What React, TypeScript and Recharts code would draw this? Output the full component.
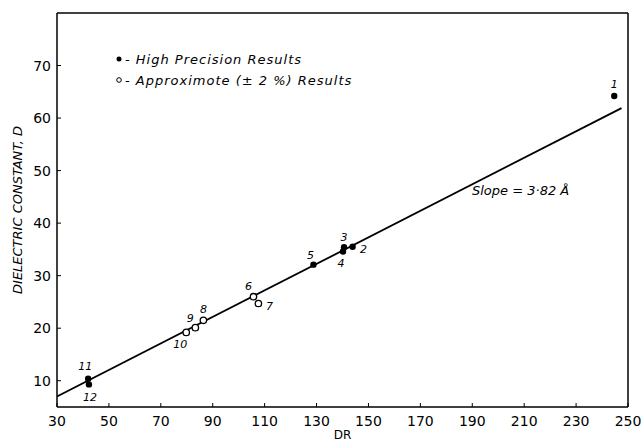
import React from 'react';
import { ScatterChart, Scatter, XAxis, YAxis, ReferenceLine, LabelList, Label } from 'recharts';

// high precision results (filled dots)
const highIds = ['1', '2', '3', '4', '5', '11', '12'];
const highDR = [244.7, 143.9, 140.6, 140.2, 128.8, 42.0, 42.3];
const highD = [64.2, 35.5, 35.4, 34.6, 32.1, 10.4, 9.3];

// approximate (+-2%) results (open circles)
const approxIds = ['6', '7', '8', '9', '10'];
const approxDR = [105.7, 107.6, 86.4, 83.3, 79.8];
const approxD = [26.0, 24.7, 21.5, 20.1, 19.2];

// fitted line, slope = 3.82 A
const fitDR = [30, 247.5];
const fitD = [7.0, 61.9];

const xTicks = [30, 50, 70, 90, 110, 130, 150, 170, 190, 210, 230, 250];
const yTicks = [10, 20, 30, 40, 50, 60, 70];

const highData = highIds.map((id, i) => ({ id, dr: highDR[i], d: highD[i] }));
const approxData = approxIds.map((id, i) => ({ id, dr: approxDR[i], d: approxD[i] }));
const fitData = fitDR.map((dr, i) => ({ dr, d: fitD[i] }));

// where each point number sits relative to its mark
const labelOffset: Record<string, [number, number]> = {
  '1': [0, -12],
  '2': [11, 3],
  '3': [0, -10],
  '4': [-2, 12],
  '5': [-3, -9],
  '6': [-5, -10],
  '7': [11, 3],
  '8': [0, -11],
  '9': [-5, -9],
  '10': [-6, 12],
  '11': [-3, -12],
  '12': [1, 13],
};

const font = '"DejaVu Sans", sans-serif';

const PointLabel = (props: any) => {
  const { x, y, width, height, value } = props;
  const [dx, dy] = labelOffset[value] || [0, -10];
  const cx = x + (width || 0) / 2;
  const cy = y + (height || 0) / 2;
  return (
    <text x={cx + dx} y={cy + dy} textAnchor="middle" dominantBaseline="central"
      fontSize={11} fontStyle="italic" fontFamily={font} fill="#000">
      {value}
    </text>
  );
};

const FilledDot = (props: any) => <circle cx={props.cx} cy={props.cy} r={3.2} fill="#000" />;
const OpenDot = (props: any) => (
  <circle cx={props.cx} cy={props.cy} r={3.2} fill="#fff" stroke="#000" strokeWidth={1.3} />
);

const App = () => {
  return (
    <div style={{ position: 'absolute', left: 0, top: 0, width: 643, height: 441, background: '#fff' }}>
      <ScatterChart width={643} height={441} margin={{ top: 13, right: 15, left: 0, bottom: 0 }}>
        <XAxis
          type="number"
          dataKey="dr"
          domain={[30, 250]}
          ticks={xTicks}
          allowDataOverflow
          height={34}
          tickSize={4}
          tickMargin={5}
          tick={{ fontSize: 14, fill: '#000', fontFamily: font }}
          axisLine={{ stroke: '#000', strokeWidth: 1.5 }}
          tickLine={{ stroke: '#000', transform: 'translate(0,-4)' }}
        >
          <Label value="DR" position="insideBottom" offset={2} fontSize={12} fill="#000" fontFamily={font} />
        </XAxis>
        <YAxis
          type="number"
          dataKey="d"
          domain={[5, 80]}
          ticks={yTicks}
          allowDataOverflow
          width={57}
          tickSize={4}
          tickMargin={2}
          tick={{ fontSize: 14, fill: '#000', fontFamily: font }}
          axisLine={{ stroke: '#000', strokeWidth: 1.5 }}
          tickLine={{ stroke: '#000', transform: 'translate(4,0)' }}
        >
          <Label
            value="DIELECTRIC  CONSTANT,  D"
            angle={-90}
            position="insideLeft"
            offset={17}
            style={{ textAnchor: 'middle', fontStyle: 'italic', fontSize: 13, fill: '#000', fontFamily: font }}
          />
        </YAxis>
        <ReferenceLine y={80} stroke="#000" strokeWidth={1.5} />
        <ReferenceLine x={250} stroke="#000" strokeWidth={1.5} />
        <Scatter data={fitData} line={{ stroke: '#000', strokeWidth: 1.8 }} shape={() => null} isAnimationActive={false} />
        <Scatter data={highData} shape={FilledDot} isAnimationActive={false}>
          <LabelList dataKey="id" content={PointLabel} />
        </Scatter>
        <Scatter data={approxData} shape={OpenDot} isAnimationActive={false}>
          <LabelList dataKey="id" content={PointLabel} />
        </Scatter>
        <text x={472} y={190} fontSize={13} fontStyle="italic" fontFamily={font} fill="#000" dominantBaseline="central">
          Slope = 3·82  Å
        </text>
        <circle cx={119} cy={59} r={2.5} fill="#000" />
        <text x={125} y={59} fontSize={13} fontStyle="italic" fontFamily={font} fill="#000" dominantBaseline="central" letterSpacing={1}>
          -  High Precision Results
        </text>
        <circle cx={119} cy={80} r={2.3} fill="#fff" stroke="#000" strokeWidth={1} />
        <text x={125} y={80} fontSize={13} fontStyle="italic" fontFamily={font} fill="#000" dominantBaseline="central" letterSpacing={1}>
          -  Approximote  (±  2 %)  Results
        </text>
      </ScatterChart>
    </div>
  );
};

export default App;
